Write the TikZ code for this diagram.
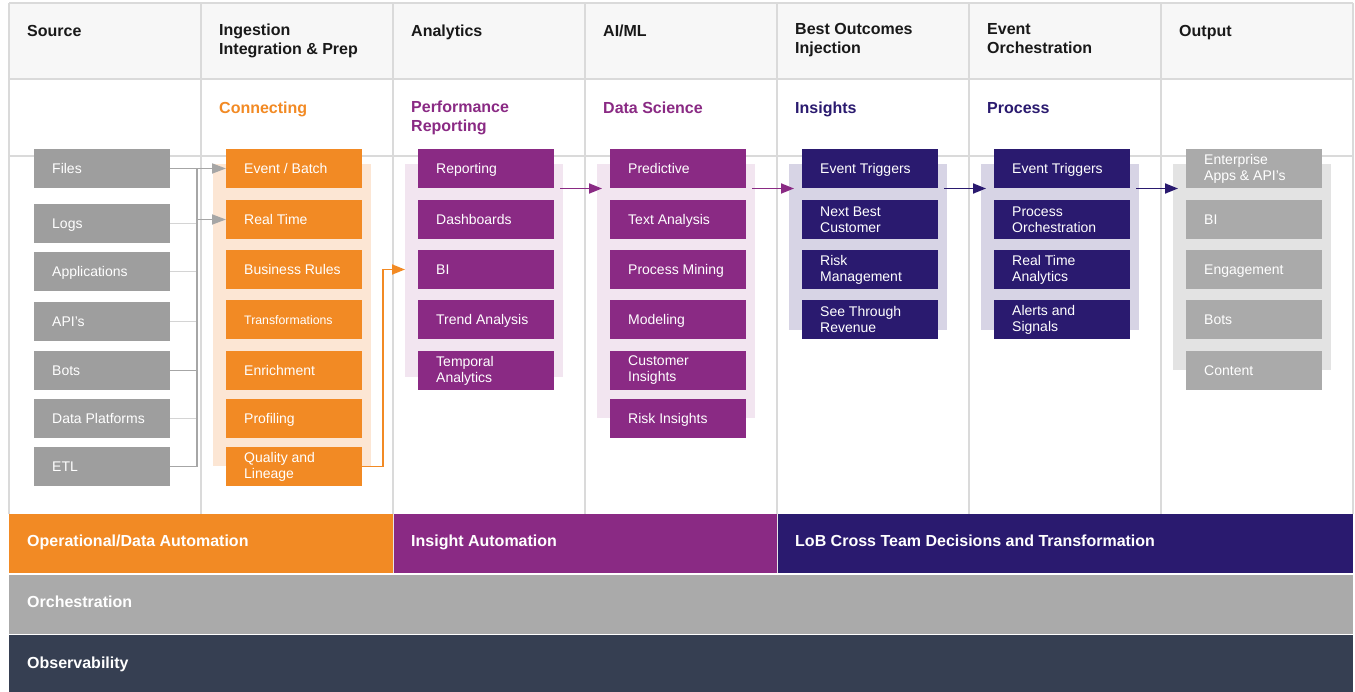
\documentclass[tikz,border=0pt]{standalone}
\usepackage{fontspec}
\setmainfont{Liberation Sans}
\usetikzlibrary{arrows.meta,calc}
\definecolor{gridc}{HTML}{DADADA}
\definecolor{hdrbg}{HTML}{F7F7F7}
\definecolor{orng}{HTML}{F28A24}
\definecolor{purp}{HTML}{8A2A84}
\definecolor{indg}{HTML}{2A1A6F}
\definecolor{srcg}{HTML}{9E9E9E}
\definecolor{outg}{HTML}{AAAAAA}
\definecolor{opan}{HTML}{FCE6D4}
\definecolor{ppan}{HTML}{F2E5F0}
\definecolor{ipan}{HTML}{D7D4E5}
\definecolor{gpan}{HTML}{E3E3E3}
\definecolor{darkg}{HTML}{A6A6A6}
\definecolor{lightg}{HTML}{D4D4D4}
\definecolor{obsv}{HTML}{363F52}
\definecolor{orch}{HTML}{AAAAAA}
\definecolor{sepc}{HTML}{E6E6E6}
\newcommand{\boxfont}{\fontsize{14}{16}\selectfont}
\newcommand{\hdfont}{\fontsize{16}{19}\selectfont\bfseries}
% single-line box label
\newcommand{\bx}[5]{\node[boxs,fill=#1] (#2) at (#3,#4) {};
  \node[lbl,anchor=base west] (#2t) at ([xshift=18pt,yshift=-5pt]#2.west) {#5};}
% two-line box label
\newcommand{\bxx}[5]{\node[boxs,fill=#1] (#2) at (#3,#4) {};
  \node[lbl,anchor=west] (#2t) at ([xshift=18pt]#2.west) {#5};}
\tikzset{
  boxs/.style={anchor=north west,minimum width=136pt,minimum height=39pt,inner sep=0pt,outer sep=0pt,draw=none},
  lbl/.style={inner sep=0pt,text=white,align=left,font=\boxfont},
  panel/.style={anchor=north west,minimum width=158pt,inner sep=0pt,outer sep=0pt,draw=none},
  hd/.style={anchor=north west,inner sep=0pt,align=left,font=\hdfont,text=black!90,execute at begin node=\strut},
  band/.style={anchor=base west,inner sep=0pt,text=white,font=\hdfont},
  glineD/.style={draw=darkg,line width=1.8pt},
  glineL/.style={draw=lightg,line width=1.8pt},
  garr/.style={draw=darkg,line width=1.8pt,-{Triangle[length=14pt,width=10pt]}},
  oarr/.style={draw=orng,line width=1.8pt,-{Triangle[length=13pt,width=10pt]}},
  parr/.style={draw=purp,line width=1.8pt,-{Triangle[length=13pt,width=10pt]}},
  iarr/.style={draw=indg,line width=1.8pt,-{Triangle[length=13pt,width=10pt]}},
}
\begin{document}
\begin{tikzpicture}[x=1pt,y=-1pt]
\useasboundingbox (0,0) rectangle (1355,692);
\fill[white] (0,0) rectangle (1355,692);
% header background
\fill[hdrbg] (9,3) rectangle (1353,79);
% grid
\foreach \x in {9,201,393,585,777,969,1161,1353}
  \draw[gridc,line width=1.6pt] (\x,3) -- (\x,514);
\foreach \y in {3,79,156}
  \draw[gridc,line width=1.6pt] (9,\y) -- (1353,\y);
% header texts
\node[hd] (h1) at (27,23.5) {Source};
\node[hd] (h2) at (219,23.5) {Ingestion\\Integration \& Prep};
\node[hd] (h3) at (411,23.5) {Analytics};
\node[hd] (h4) at (603,23.5) {AI/ML};
\node[hd] (h5) at (795,23.5) {Best Outcomes\\Injection};
\node[hd] (h6) at (987,23.5) {Event\\Orchestration};
\node[hd] (h7) at (1179,23.5) {Output};
% sub headers
\node[hd,text=orng] (sh2) at (219,100.5) {Connecting};
\node[hd,text=purp] (sh3) at (411,100.5) {Performance\\Reporting};
\node[hd,text=purp] (sh4) at (603,100.5) {Data Science};
\node[hd,text=indg] (sh5) at (795,100.5) {Insights};
\node[hd,text=indg] (sh6) at (987,100.5) {Process};
% panels
\node[panel,fill=opan,minimum height=302pt] (pO) at (213,164) {};
\node[panel,fill=ppan,minimum height=213pt] (pP1) at (405,164) {};
\node[panel,fill=ppan,minimum height=254pt] (pP2) at (597,164) {};
\node[panel,fill=ipan,minimum height=166pt] (pI1) at (789,164) {};
\node[panel,fill=ipan,minimum height=166pt] (pI2) at (981,164) {};
\node[panel,fill=gpan,minimum height=206pt] (pG) at (1173,164) {};
% source boxes
\bx{srcg}{s1}{34}{149}{Files}
\bx{srcg}{s2}{34}{204}{Logs}
\bx{srcg}{s3}{34}{252}{Applications}
\bx{srcg}{s4}{34}{302}{API's}
\bx{srcg}{s5}{34}{351}{Bots}
\bx{srcg}{s6}{34}{399}{Data Platforms}
\bx{srcg}{s7}{34}{447}{ETL}
% ingestion
\bx{orng}{o1}{226}{149}{Event / Batch}
\bx{orng}{o2}{226}{200}{Real Time}
\bx{orng}{o3}{226}{250}{Business Rules}
\bx{orng}{o4}{226}{300}{\fontsize{12.3}{15}\selectfont Transformations}
\bx{orng}{o5}{226}{351}{Enrichment}
\bx{orng}{o6}{226}{399}{Profiling}
\bxx{orng}{o7}{226}{447}{Quality and\\Lineage}
% analytics
\bx{purp}{a1}{418}{149}{Reporting}
\bx{purp}{a2}{418}{200}{Dashboards}
\bx{purp}{a3}{418}{250}{BI}
\bx{purp}{a4}{418}{300}{Trend Analysis}
\bxx{purp}{a5}{418}{351}{Temporal\\Analytics}
% AI/ML
\bx{purp}{m1}{610}{149}{Predictive}
\bx{purp}{m2}{610}{200}{Text Analysis}
\bx{purp}{m3}{610}{250}{Process Mining}
\bx{purp}{m4}{610}{300}{Modeling}
\bxx{purp}{m5}{610}{351}{Customer\\Insights}
\bx{purp}{m6}{610}{399}{Risk Insights}
% best outcomes
\bx{indg}{b1}{802}{149}{Event Triggers}
\bxx{indg}{b2}{802}{200}{Next Best\\Customer}
\bxx{indg}{b3}{802}{250}{Risk\\Management}
\bxx{indg}{b4}{802}{300}{See Through\\Revenue}
% event orchestration
\bx{indg}{e1}{994}{149}{Event Triggers}
\bxx{indg}{e2}{994}{200}{Process\\Orchestration}
\bxx{indg}{e3}{994}{250}{Real Time\\Analytics}
\bxx{indg}{e4}{994}{300}{Alerts and\\Signals}
% output
\bxx{outg}{u1}{1186}{149}{Enterprise\\Apps \& API's}
\bx{outg}{u2}{1186}{200}{BI}
\bx{outg}{u3}{1186}{250}{Engagement}
\bx{outg}{u4}{1186}{300}{Bots}
\bx{outg}{u5}{1186}{351}{Content}
% source connectors
\coordinate (bus) at (197,0);
\draw[glineL] (s2.east) -- (s2.east -| bus);
\draw[glineL] (s3.east) -- (s3.east -| bus);
\draw[glineL] (s4.east) -- (s4.east -| bus);
\draw[glineL] (s6.east) -- (s6.east -| bus);
\draw[glineD] (s5.east) -- (s5.east -| bus);
\draw[glineD] (s7.east) -- (s7.east -| bus);
\draw[glineD] (s1.east -| bus) -- (s7.east -| bus);
\draw[garr] (s1.east) -- (o1.west);
\draw[garr] (o2.west -| bus) -- (o2.west);
% orange connector
\coordinate (ojog) at (383,0);
\draw[oarr] (o7.east) -- (o7.east -| ojog) |- (pP1.west |- a3.west);
% flow arrows
\draw[parr] ($(pP1.east |- a1.south)+(-3,0.5)$) -- ($(pP2.west |- a1.south)+(5,0.5)$);
\draw[parr] ($(pP2.east |- m1.south)+(-3,0.5)$) -- ($(pI1.west |- m1.south)+(5,0.5)$);
\draw[iarr] ($(pI1.east |- b1.south)+(-3,0.5)$) -- ($(pI2.west |- b1.south)+(5,0.5)$);
\draw[iarr] ($(pI2.east |- e1.south)+(-3,0.5)$) -- ($(pG.west |- e1.south)+(5,0.5)$);
% bands
\fill[orng] (9,514) rectangle (393,573);
\fill[purp] (393,514) rectangle (777,573);
\fill[indg] (777,514) rectangle (1353,573);
\draw[sepc,line width=0.8pt] (393,514) -- (393,573);
\draw[sepc,line width=0.8pt] (777,514) -- (777,573);
\fill[orch] (9,574.5) rectangle (1353,633.5);
\fill[obsv] (9,635) rectangle (1353,692);
\node[band] (bd1) at (27,546) {Operational/Data Automation};
\node[band] (bd2) at (411,546) {Insight Automation};
\node[band] (bd3) at (795,546) {LoB Cross Team Decisions and Transformation};
\node[band] (bd4) at (27,607) {Orchestration};
\node[band] (bd5) at (27,668) {Observability};
\end{tikzpicture}
\end{document}
